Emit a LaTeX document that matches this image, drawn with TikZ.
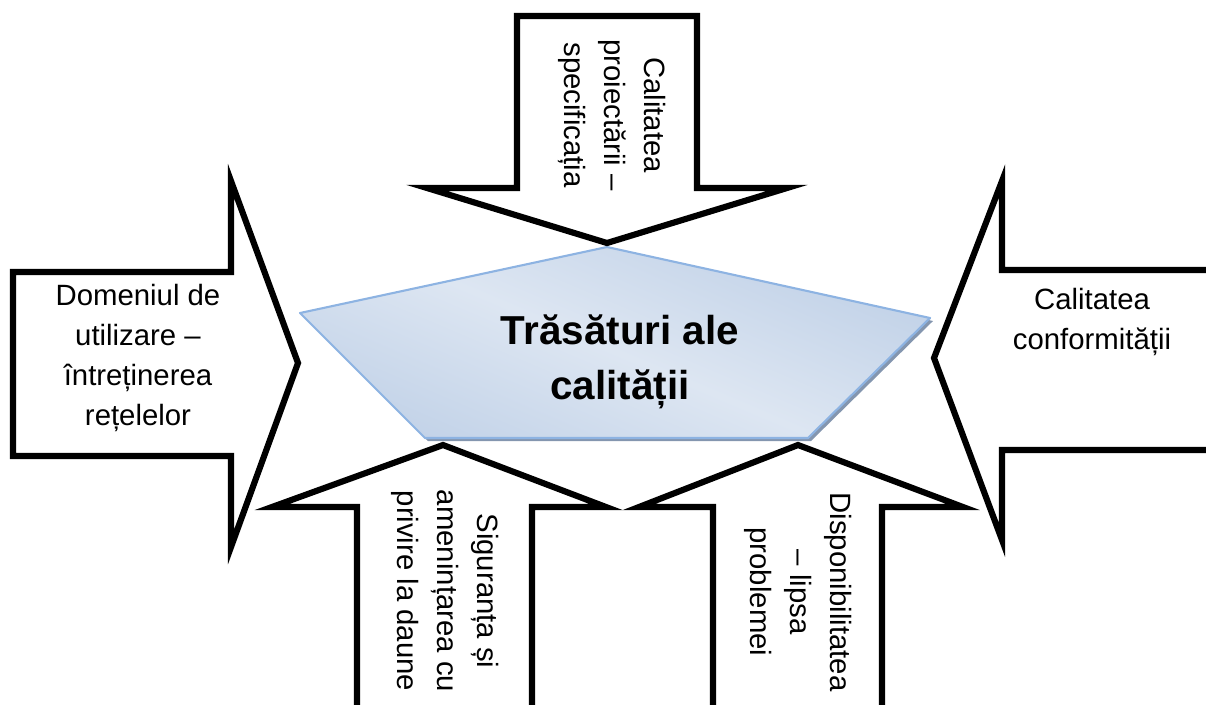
\documentclass[tikz,border=0pt]{standalone}
\usepackage{fontspec}
\setmainfont{Liberation Sans}
\usetikzlibrary{calc}

\definecolor{pentaMargine}{HTML}{8DB3E2}
\definecolor{pentaDeschis}{HTML}{DDE6F2}
\definecolor{pentaInchis}{HTML}{A5BDDD}
\definecolor{pentaUmbra}{HTML}{8496AF}

\begin{document}
\begin{tikzpicture}[
  x=0.02cm, y=-0.02cm,
  font=\fontsize{16.7pt}{22.7pt}\selectfont,
  sageata/.style={draw=black, line width=3.5pt, fill=white, line join=miter},
  pentaFond/.style={top color=pentaInchis, bottom color=pentaInchis,
    middle color=pentaDeschis, shading angle=157},
  penta/.style={draw=pentaMargine, line width=1.2pt, line join=round},
  umbra/.style={fill=pentaUmbra},
  eticheta/.style={align=center, inner sep=0pt, text=black},
  etichetaVert/.style={eticheta, rotate=-90},
  titlu/.style={align=center, inner sep=0pt, text=black,
    font=\fontsize{23pt}{31pt}\selectfont\bfseries}
]
\clip (0,0) rectangle (1206,704);

\coordinate (pSus) at (607,247);
\coordinate (pDreapta) at (930,318);
\coordinate (pJosD) at (808,438);
\coordinate (pJosS) at (425,438);
\coordinate (pStanga) at (300,313);
\coordinate (pCentru) at (612,350);

\fill[umbra] ($(pSus)+(3,3)$) -- ($(pDreapta)+(3,3)$) -- ($(pJosD)+(3,3)$)
  -- ($(pJosS)+(3,3)$) -- ($(pStanga)+(3,3)$) -- cycle;
\begin{scope}
  \clip (pSus) -- (pDreapta) -- (pJosD) -- (pJosS) -- (pStanga) -- cycle;
  \shade[pentaFond] ($(pCentru)+(-330,-330)$) rectangle ($(pCentru)+(330,330)$);
\end{scope}
\draw[penta] (pSus) -- (pDreapta) -- (pJosD) -- (pJosS) -- (pStanga) -- cycle;

\draw[sageata] (517,16) -- (697,16) -- (697,188) -- (787,188) -- (607,243)
  -- (427,188) -- (517,188) -- cycle;

\draw[sageata] (13,272) -- (231,272) -- (231,181) -- (298,363) -- (231,547)
  -- (231,456) -- (13,456) -- cycle;

\draw[sageata] (1230,270) -- (1002,270) -- (1002,181) -- (934,358) -- (1002,540)
  -- (1002,450) -- (1230,450);

\draw[sageata] (357,730) -- (357,507) -- (272,507) -- (443,445) -- (606,507)
  -- (532,507) -- (532,730);

\draw[sageata] (713,730) -- (713,507) -- (639,507) -- (798,445) -- (963,507)
  -- (882,507) -- (882,730);

\node[titlu] (calitate) at (620,362) {Trăsături ale\\calității};

\node[etichetaVert] (proiectare) at (612,115) {Calitatea\\proiectării –\\specificația};
\node[eticheta] (utilizare) at (138,358) {Domeniul de\\utilizare –\\întreținerea\\rețelelor};
\node[eticheta] (conformitate) at (1092,322) {Calitatea\\conformității};
\node[etichetaVert] (siguranta) at (445,591) {Siguranța și\\amenințarea cu\\privire la daune};
\node[etichetaVert] (disponibilitate) at (798,592) {Disponibilitatea\\– lipsa\\problemei};
\end{tikzpicture}
\end{document}
